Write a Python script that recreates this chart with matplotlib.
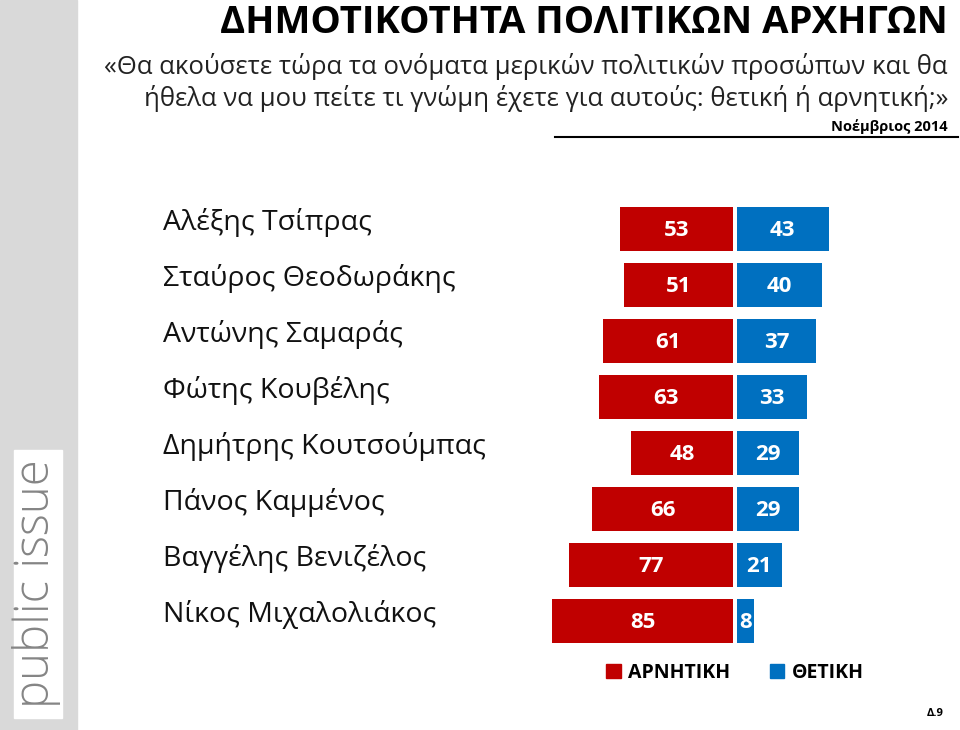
import matplotlib
matplotlib.use("Agg")
import matplotlib.pyplot as plt
from matplotlib.patches import Rectangle, Patch
import matplotlib.transforms as mtransforms

plt.rcParams['font.family'] = ['Open Sans', 'DejaVu Sans']

# --- data ---
leaders = ["Αλέξης Τσίπρας", "Σταύρος Θεοδωράκης", "Αντώνης Σαμαράς", "Φώτης Κουβέλης",
           "Δημήτρης Κουτσούμπας", "Πάνος Καμμένος", "Βαγγέλης Βενιζέλος", "Νίκος Μιχαλολιάκος"]
negative = [53, 51, 61, 63, 48, 66, 77, 85]
positive = [43, 40, 37, 33, 29, 29, 21, 8]
series_names = ["ΑΡΝΗΤΙΚΗ", "ΘΕΤΙΚΗ"]

title = "ΔΗΜΟΤΙΚΟΤΗΤΑ ΠΟΛΙΤΙΚΩΝ ΑΡΧΗΓΩΝ"
subtitle = ["«Θα ακούσετε τώρα τα ονόματα μερικών πολιτικών προσώπων και θα",
            "ήθελα να μου πείτε τι γνώμη έχετε για αυτούς: θετική ή αρνητική;»"]
date_label = "Νοέμβριος 2014"

RED = "#C00000"
BLUE = "#0070C0"
W, H = 960, 730

fig = plt.figure(figsize=(9.6, 7.3), dpi=100)

def fx(px):
    return px / W

def fy(py):
    return 1 - py / H

# --- side strip with logo ---
fig.patches.append(Rectangle((0, 0), fx(77), 1, transform=fig.transFigure,
                             color="#d9d9d9", zorder=0))
fig.patches.append(Rectangle((fx(14), fy(718)), fx(48), (718 - 450) / H,
                             transform=fig.transFigure, color="white", zorder=1))
fig.text(fx(37), fy(584), "public issue", rotation=90, ha="center", va="center",
         fontsize=34, color="#858585", fontweight="light", zorder=2)

# --- header ---
fig.text(fx(948), fy(23), title, ha="right", va="center", fontsize=27.5, fontweight="bold")
fig.text(fx(948), fy(66), subtitle[0], ha="right", va="center", fontsize=18.5, color="#222222")
fig.text(fx(948), fy(98), subtitle[1], ha="right", va="center", fontsize=18.5, color="#222222")
fig.text(fx(948), fy(127), date_label, ha="right", va="center", fontsize=10.5, fontweight="bold")
fig.add_artist(plt.Line2D([fx(555), fx(958)], [fy(137), fy(137)], color="black", lw=1.5))

# --- bars ---
ax_left, ax_right, ax_top, ax_bot = 540, 840, 190, 660
ax = fig.add_axes([fx(ax_left), fy(ax_bot), (ax_right - ax_left) / W, (ax_bot - ax_top) / H])
scale = 2.13  # px per unit
center = 735
ax.set_xlim(-(center - ax_left) / scale, (ax_right - center) / scale)
ax.set_ylim((ax_bot - 229) / 56, (ax_top - 229) / 56)
ax.axis("off")

gap = 0.95
rows = list(range(len(leaders)))
ax.barh(rows, negative, left=[-v - gap for v in negative], height=0.77, color=RED)
ax.barh(rows, positive, left=gap, height=0.77, color=BLUE)

for i in rows:
    ax.text(-negative[i] / 2 - gap, i + 0.03, str(negative[i]), ha="center", va="center",
            color="white", fontsize=16, fontweight="bold")
    ax.text(positive[i] / 2 + gap, i + 0.03, str(positive[i]), ha="center", va="center",
            color="white", fontsize=16, fontweight="bold")

tr = mtransforms.blended_transform_factory(fig.transFigure, ax.transData)
for i, name in enumerate(leaders):
    ax.text(fx(163), i - 0.12, name, transform=tr, ha="left", va="center", fontsize=20.5,
            color="#111111", clip_on=False)

# --- legend ---
handles = [Patch(color=RED), Patch(color=BLUE)]
fig.legend(handles, series_names, loc="center", bbox_to_anchor=(fx(735), fy(673)),
           ncol=2, frameon=False, prop={"size": 14, "weight": "bold"},
           handlelength=0.75, handleheight=0.75, handletextpad=0.4, columnspacing=2.0)

fig.text(fx(935), fy(714), "Δ.9", ha="center", va="center", fontsize=8, fontweight="bold")

fig.savefig("out.png", dpi=100)
